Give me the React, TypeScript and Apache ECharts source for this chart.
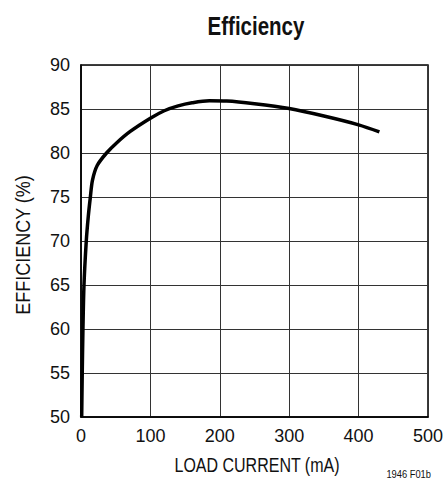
import React, { useEffect, useRef } from "react";
import * as echarts from "echarts";

const titleText = "Efficiency";
const xAxisName = "LOAD CURRENT (mA)";
const yAxisName = "EFFICIENCY (%)";
const footnote = "1946 F01b";

// load current (mA)
const loadCurrent = [1, 1.8, 2.8, 4.3, 7.6, 10.5, 13.5, 16.5, 23.5, 36.8, 52, 71, 100, 120, 140, 160, 185, 210, 250, 300, 350, 400, 430];
// efficiency (%)
const efficiency = [50, 55, 60, 65, 70, 72.8, 75, 76.9, 78.6, 80, 81.2, 82.45, 83.95, 84.8, 85.35, 85.7, 85.93, 85.9, 85.6, 85.05, 84.2, 83.2, 82.4];

const FONT = "'Liberation Sans', Arial, sans-serif";

export default function App() {
  const ref = useRef<HTMLDivElement>(null);
  useEffect(() => {
    if (!ref.current) return;
    const chart = echarts.init(ref.current, null, { renderer: "svg" });
    const data = loadCurrent.map((x, i) => [x, efficiency[i]]);
    chart.setOption({
      animation: false,
      backgroundColor: "#ffffff",
      grid: {
        left: 81,
        right: 14,
        top: 65,
        bottom: 82,
        show: true,
        borderColor: "#000",
        borderWidth: 1.5,
        backgroundColor: "transparent",
      },
      xAxis: {
        type: "value",
        min: 0,
        max: 500,
        interval: 100,
        axisLine: { show: true, lineStyle: { color: "#000", width: 1.5 } },
        axisTick: { show: false },
        axisLabel: { fontFamily: FONT, fontSize: 18, color: "#111", margin: 10 },
        splitLine: { show: true, lineStyle: { color: "#333", width: 1 } },
      },
      yAxis: {
        type: "value",
        min: 50,
        max: 90,
        interval: 5,
        axisLine: { show: true, lineStyle: { color: "#000", width: 1.5 } },
        axisTick: { show: false },
        axisLabel: { fontFamily: FONT, fontSize: 18, color: "#111", margin: 11 },
        splitLine: { show: true, lineStyle: { color: "#333", width: 1 } },
      },
      graphic: [
        {
          type: "text",
          x: 256,
          y: 26,
          scaleX: 0.82,
          style: {
            text: titleText,
            fontFamily: FONT,
            fontSize: 25,
            fontWeight: "bold",
            fill: "#111",
            align: "center",
            verticalAlign: "middle",
          },
        },
        {
          type: "text",
          x: 257,
          y: 465,
          scaleX: 0.8,
          style: {
            text: xAxisName,
            fontFamily: FONT,
            fontSize: 20,
            fill: "#111",
            align: "center",
            verticalAlign: "middle",
          },
        },
        {
          type: "text",
          x: 23,
          y: 245,
          rotation: Math.PI / 2,
          scaleX: 0.9,
          style: {
            text: yAxisName,
            fontFamily: FONT,
            fontSize: 20,
            fill: "#111",
            align: "center",
            verticalAlign: "middle",
          },
        },
        {
          type: "text",
          x: 431,
          y: 474,
          scaleX: 0.85,
          style: {
            text: footnote,
            fontFamily: FONT,
            fontSize: 11,
            fill: "#111",
            align: "right",
            verticalAlign: "middle",
          },
        },
      ],
      series: [
        {
          type: "line",
          data,
          showSymbol: false,
          smooth: 0.3,
          lineStyle: { color: "#000", width: 3.5 },
          z: 5,
        },
      ],
    });
    return () => chart.dispose();
  }, []);
  return <div ref={ref} style={{ width: 446, height: 499, position: "absolute", left: 0, top: 0 }} />;
}
